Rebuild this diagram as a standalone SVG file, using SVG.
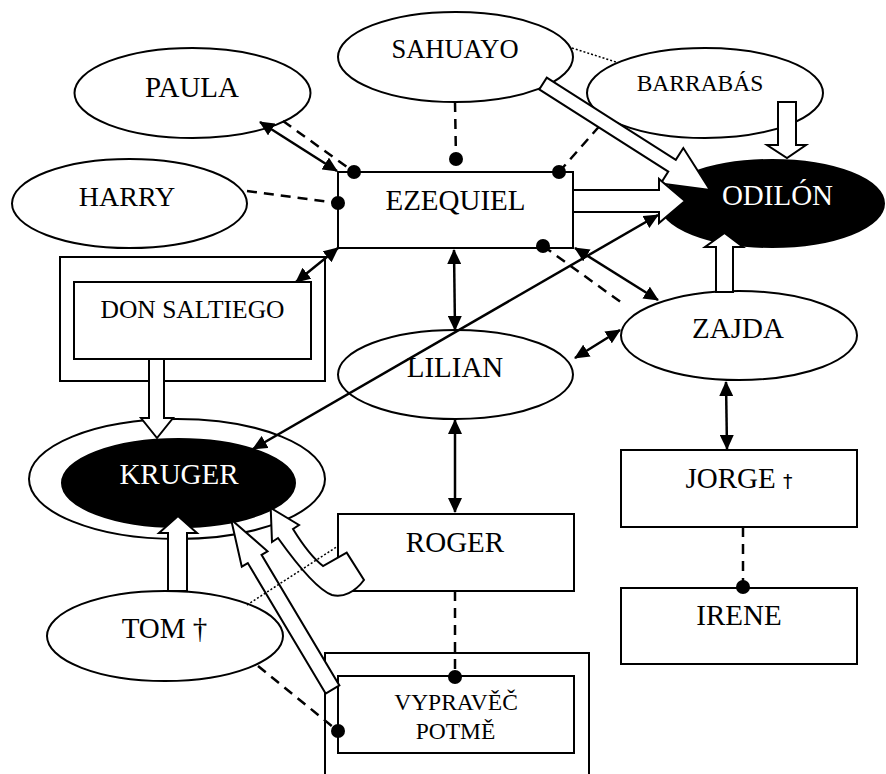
<svg xmlns="http://www.w3.org/2000/svg" width="886" height="774" viewBox="0 0 886 774">
<style>
  .shape{fill:#fff;stroke:#000;stroke-width:2}
  .dark{fill:#000;stroke:#000;stroke-width:2}
  .label{font-family:"Liberation Serif","Times New Roman",serif;font-size:29px;fill:#000;text-anchor:middle}
  .inv{fill:#fff}
  .link{fill:none;stroke:#000;stroke-width:2.5}
  .dash{fill:none;stroke:#000;stroke-width:2.5;stroke-dasharray:10 7}
  .dotted{fill:none;stroke:#000;stroke-width:1.5;stroke-dasharray:2 2}
  .both{marker-start:url(#tip);marker-end:url(#tip)}
  .block{fill:#fff;stroke:#000;stroke-width:2;stroke-linejoin:miter}
  .knob{fill:#000}
</style>
<defs>
  <marker id="tip" viewBox="0 0 15 14" refX="14" refY="7" markerWidth="15" markerHeight="14" markerUnits="userSpaceOnUse" orient="auto-start-reverse">
    <path d="M0,0 L15,7 L0,14 Z" fill="#000"/>
  </marker>
</defs>

<!-- nodes -->
<g id="sahuayo">
  <ellipse class="shape" cx="455.5" cy="57" rx="117.5" ry="45"/>
  <text class="label" x="455" y="58" style="font-size:26.5px">SAHUAYO</text>
</g>
<g id="paula">
  <ellipse class="shape" cx="192.5" cy="93" rx="118" ry="45"/>
  <text class="label" x="192" y="97">PAULA</text>
</g>
<g id="barrabas">
  <ellipse class="shape" cx="705" cy="93" rx="118" ry="45"/>
  <text class="label" x="700" y="91" style="font-size:23.5px">BARRABÁS</text>
</g>
<g id="harry">
  <ellipse class="shape" cx="129.5" cy="203.5" rx="117.5" ry="44.5"/>
  <text class="label" x="127" y="206" style="font-size:28px">HARRY</text>
</g>
<g id="ezequiel">
  <rect class="shape" x="338" y="172" width="235" height="76"/>
  <text class="label" x="455.5" y="210">EZEQUIEL</text>
</g>
<g id="odilon">
  <ellipse class="dark" cx="772" cy="203.5" rx="112" ry="43.5"/>
  <text class="label inv" x="777.5" y="205">ODILÓN</text>
</g>
<g id="don-saltiego">
  <rect class="shape" x="60" y="257" width="265" height="124"/>
  <rect class="shape" x="74" y="282" width="237" height="77"/>
  <text class="label" x="192.5" y="318" style="font-size:25.5px">DON SALTIEGO</text>
</g>
<g id="lilian">
  <ellipse class="shape" cx="455.5" cy="374.5" rx="117.5" ry="44.5"/>
  <text class="label" x="455" y="377">LILIAN</text>
</g>
<g id="zajda">
  <ellipse class="shape" cx="739" cy="335.5" rx="118" ry="44.5"/>
  <text class="label" x="738" y="338">ZAJDA</text>
</g>
<g id="kruger">
  <ellipse class="shape" cx="177" cy="479" rx="148" ry="60"/>
  <ellipse class="dark" cx="178.5" cy="483" rx="116.5" ry="44"/>
  <text class="label inv" x="179" y="484">KRUGER</text>
</g>
<g id="jorge">
  <rect class="shape" x="621" y="450" width="236" height="77"/>
  <text class="label" x="739" y="488">JORGE <tspan style="font-family:'DejaVu Sans',sans-serif;font-size:19px">†</tspan></text>
</g>
<g id="irene">
  <rect class="shape" x="621" y="588" width="236" height="76"/>
  <text class="label" x="739" y="625">IRENE</text>
</g>
<g id="roger">
  <rect class="shape" x="338" y="514" width="236" height="77"/>
  <text class="label" x="455" y="552">ROGER</text>
</g>
<g id="tom">
  <ellipse class="shape" cx="165" cy="636" rx="118" ry="45"/>
  <text class="label" x="164.5" y="638">TOM †</text>
</g>
<g id="vypravec">
  <rect class="shape" x="325" y="653" width="264" height="140"/>
  <rect class="shape" x="338" y="676" width="236" height="77"/>
  <text class="label" x="456" y="710" style="font-size:23.5px">VYPRAVĚČ</text>
  <text class="label" x="455.5" y="739" style="font-size:23.5px">POTMĚ</text>
</g>

<!-- connectors -->
<g id="connectors">
  <!-- dashed ties ending in a knob -->
  <line class="dash" x1="283" y1="121" x2="354" y2="172"/>
  <line class="dash" x1="247" y1="191" x2="338" y2="203"/>
  <line class="dash" x1="455" y1="102" x2="456" y2="159"/>
  <line class="dash" x1="559" y1="172" x2="603" y2="122"/>
  <line class="dash" x1="543" y1="246" x2="622" y2="303"/>
  <line class="dash" x1="455" y1="591" x2="455" y2="676"/>
  <line class="dash" x1="743" y1="527" x2="743" y2="587"/>
  <line class="dash" x1="258" y1="666" x2="338" y2="731"/>

  <!-- two-way arrows -->
  <line class="link both" x1="260" y1="122" x2="337" y2="171"/>
  <line class="link both" x1="338" y1="248" x2="296" y2="282"/>
  <line class="link both" x1="454" y1="250" x2="455" y2="330"/>
  <line class="link both" x1="455" y1="420" x2="455" y2="512"/>
  <line class="link both" x1="575" y1="248" x2="658" y2="300"/>
  <line class="link both" x1="575" y1="358" x2="620" y2="330"/>
  <line class="link both" x1="726" y1="382" x2="727" y2="449"/>
  <line class="link both" x1="658" y1="215" x2="253" y2="449"/>

  <!-- hollow block arrows -->
  <path class="block" d="M0,-7 L153,-7 L153,-21 L198,0 L153,21 L153,7 L0,7 Z" transform="translate(543,83.5) rotate(32.5)"/>
  <path class="block" d="M778,102 L796,102 L796,145 L806,145 L787,158 L767,145 L778,145 Z"/>
  <path class="block" d="M573,190 L659,190 L659,179 L685,201 L659,223 L659,212 L573,212 Z"/>
  <path class="block" d="M716,292 L716,247 L705,247 L724.5,233 L743,247 L733,247 L733,292 Z"/>
  <path class="block" d="M149,359 L164,359 L164,418 L173,418 L157,438 L141,418 L149,418 Z"/>
  <path class="block" d="M168,591 L168,533 L159,533 L178,516 L197,533 L187,533 L187,591 Z"/>
  <path class="block" d="M0,-8 L152,-8 L152,-15 L198,0 L152,15 L152,8 L0,8 Z" transform="translate(332.5,689.5) rotate(-120.8)"/>
  <path class="block" d="M270.7,508 L299,525 L293,529 C301,542 310,556 323,566 L346.7,552.7 L364,580 C355,592 343,598 332,595 C318,590 298,566 278,538 L272,542 Z"/>

  <!-- dotted ties -->
  <line class="dotted" x1="572" y1="48" x2="616" y2="62"/>
  <line class="dotted" x1="247" y1="605" x2="338" y2="546"/>

  <!-- knobs -->
  <circle class="knob" cx="354" cy="172" r="7"/>
  <circle class="knob" cx="338" cy="203" r="7"/>
  <circle class="knob" cx="456" cy="159" r="7"/>
  <circle class="knob" cx="559" cy="172" r="7"/>
  <circle class="knob" cx="543" cy="246" r="7"/>
  <circle class="knob" cx="455" cy="677" r="7"/>
  <circle class="knob" cx="743" cy="587" r="7"/>
  <circle class="knob" cx="338" cy="731" r="7"/>
</g>
</svg>
